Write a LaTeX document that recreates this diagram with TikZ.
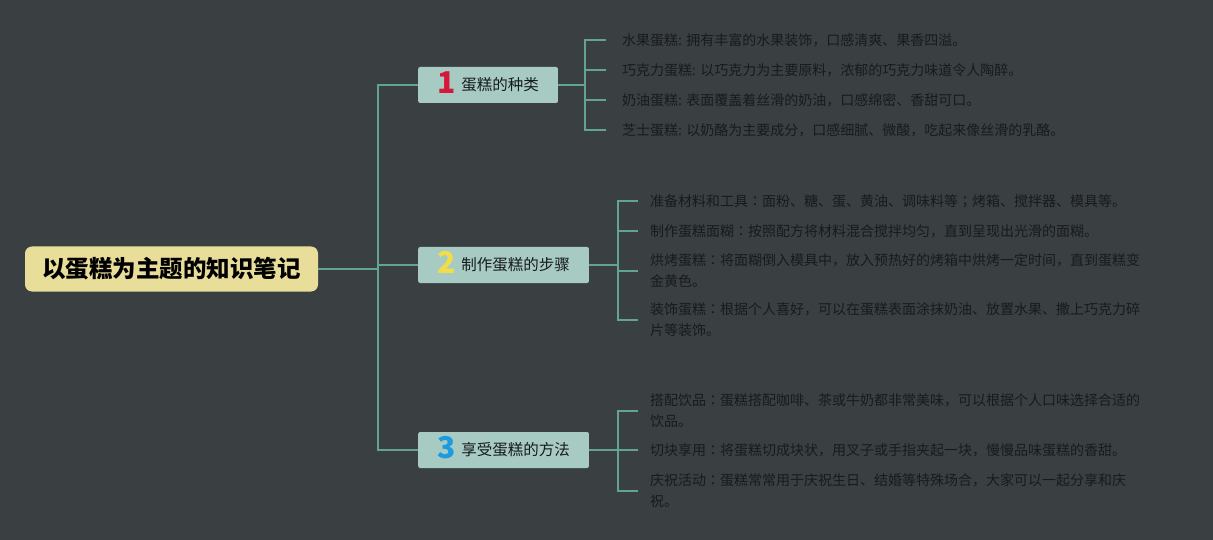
\documentclass[tikz,border=0pt]{standalone}
\usepackage{fontspec}
\setmainfont{Noto Sans CJK SC}
\newfontfamily\jpf{Noto Sans CJK JP}
\newcommand{\fwc}{{\jpf ：}}
\newcommand{\fws}{{\jpf ；}}
\definecolor{bgc}{HTML}{3A3F42}
\definecolor{linec}{HTML}{62A392}
\definecolor{boxc}{HTML}{A7CBC3}
\definecolor{rootc}{HTML}{E8DE99}
\definecolor{textc}{HTML}{181B1D}
\definecolor{numa}{HTML}{D4173A}
\definecolor{numb}{HTML}{F2DC4A}
\definecolor{numc}{HTML}{1E9BE0}
\newcommand{\topicnum}[2]{\smash{\raisebox{-3pt}{\fontsize{30}{30}\selectfont\bfseries\color{#1}#2}}\hspace{6pt}}
\begin{document}
\begin{tikzpicture}[x=1pt,y=-1pt,
  conn/.style={draw=linec, line width=1.8pt},
  rootbox/.style={fill=rootc, rounded corners=7pt, minimum width=293pt, minimum height=45pt, inner sep=0pt, text=black, font=\fontsize{23.5}{26}\selectfont\bfseries},
  topic/.style={fill=boxc, rounded corners=2pt, minimum height=36pt, inner xsep=19pt, inner ysep=0pt, anchor=west, text=textc, font=\fontsize{15.5}{18}\selectfont},
  leafa/.style={anchor=west, align=left, inner xsep=16pt, inner ysep=0pt, text=textc, font=\fontsize{14}{21}\selectfont},
  leafb/.style={leafa, inner xsep=12pt},
]
\fill[bgc] (0,0) rectangle (1213,540);
\useasboundingbox (0,0) rectangle (1213,540);

\node[rootbox] (root) at (171.5,269) {以蛋糕为主题的知识笔记};

\node[topic] (n1) at (418,85) {\topicnum{numa}{1}蛋糕的种类};
\node[topic] (n2) at (418,265) {\topicnum{numb}{2}制作蛋糕的步骤};
\node[topic] (n3) at (418,450) {\topicnum{numc}{3}享受蛋糕的方法};

\coordinate (j) at (378,269);
\coordinate (b1) at (585,85);
\coordinate (b2) at (618,265);
\coordinate (b3) at (618,450);

\node[leafa] (c11) at (606,40) {水果蛋糕: 拥有丰富的水果装饰，口感清爽、果香四溢。};
\node[leafa] (c12) at (606,70) {巧克力蛋糕: 以巧克力为主要原料，浓郁的巧克力味道令人陶醉。};
\node[leafa] (c13) at (606,100) {奶油蛋糕: 表面覆盖着丝滑的奶油，口感绵密、香甜可口。};
\node[leafa] (c14) at (606,130) {芝士蛋糕: 以奶酪为主要成分，口感细腻、微酸，吃起来像丝滑的乳酪。};

\node[leafb] (c21) at (638,201) {准备材料和工具\fwc 面粉、糖、蛋、黄油、调味料等\fws 烤箱、搅拌器、模具等。};
\node[leafb] (c22) at (638,231) {制作蛋糕面糊\fwc 按照配方将材料混合搅拌均匀，直到呈现出光滑的面糊。};
\node[leafb] (c23) at (638,271) {烘烤蛋糕\fwc 将面糊倒入模具中，放入预热好的烤箱中烘烤一定时间，直到蛋糕变\\金黄色。};
\node[leafb] (c24) at (638,320) {装饰蛋糕\fwc 根据个人喜好，可以在蛋糕表面涂抹奶油、放置水果、撒上巧克力碎\\片等装饰。};

\node[leafb] (c31) at (638,411) {搭配饮品\fwc 蛋糕搭配咖啡、茶或牛奶都非常美味，可以根据个人口味选择合适的\\饮品。};
\node[leafb] (c32) at (638,450) {切块享用\fwc 将蛋糕切成块状，用叉子或手指夹起一块，慢慢品味蛋糕的香甜。};
\node[leafb] (c33) at (638,491) {庆祝活动\fwc 蛋糕常常用于庆祝生日、结婚等特殊场合，大家可以一起分享和庆\\祝。};

\draw[conn] (root.east) -- (j);
\draw[conn] (n1.west) -| (j);
\draw[conn] (n3.west) -| (j);
\draw[conn] (n2.west) -- (n2.west -| j);

\draw[conn] (n1.east) -- (b1);
\foreach \c in {c11,c12,c13,c14} \draw[conn] (b1) |- (\c.west);
\draw[conn] (n2.east) -- (b2);
\foreach \c in {c21,c22,c23,c24} \draw[conn] (b2) |- (\c.west);
\draw[conn] (n3.east) -- (b3);
\foreach \c in {c31,c32,c33} \draw[conn] (b3) |- (\c.west);
\end{tikzpicture}
\end{document}
